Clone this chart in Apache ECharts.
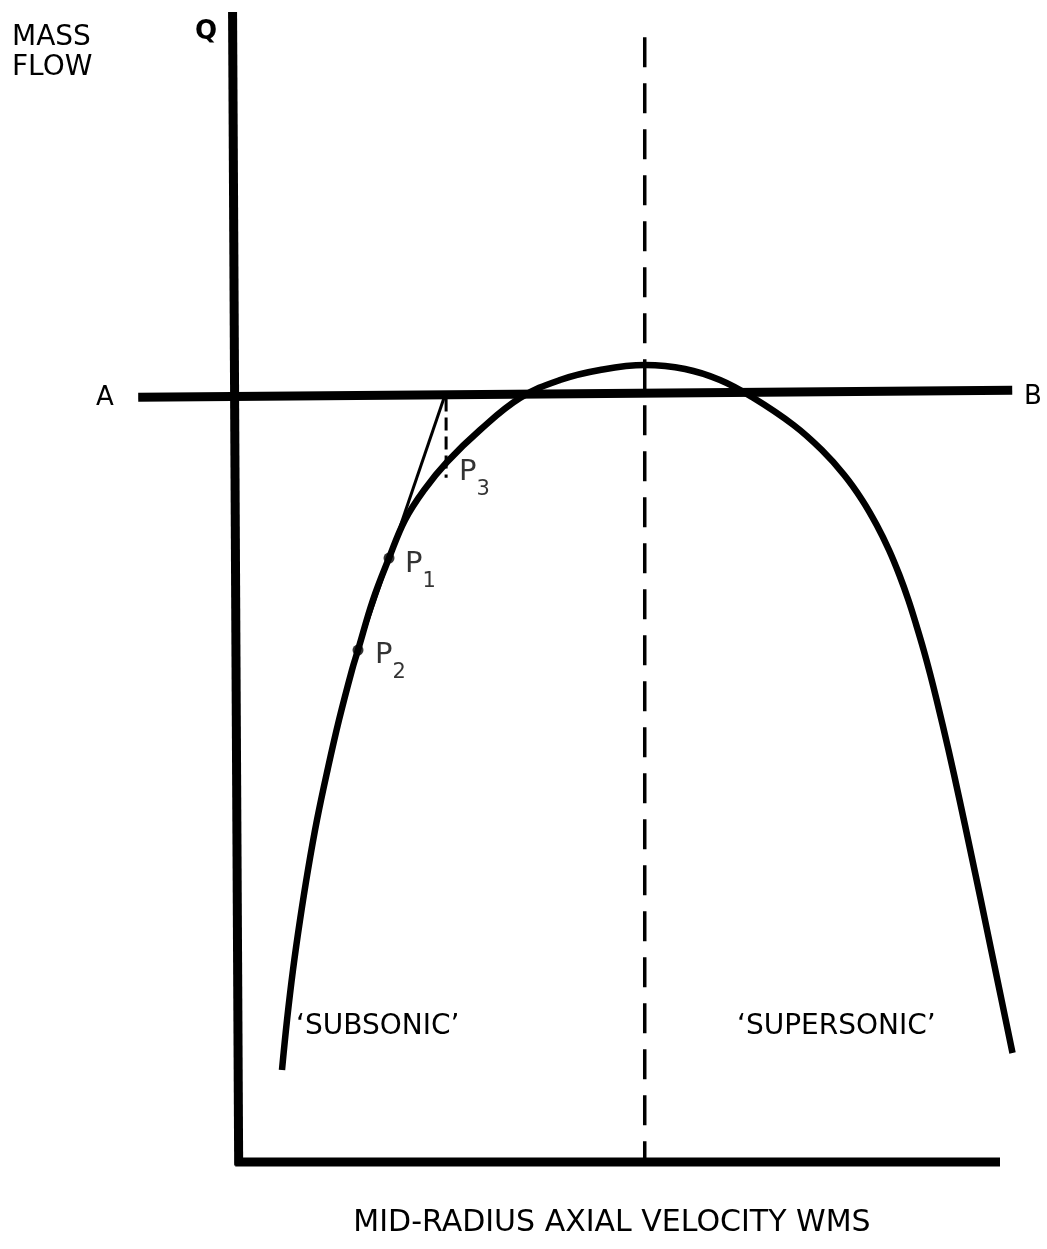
<!DOCTYPE html>
<html>
<head>
<meta charset="utf-8">
<script src="https://cdn.jsdelivr.net/npm/echarts@6/dist/echarts.min.js"></script>
<style>
  html, body { margin: 0; padding: 0; background: #fff; }
  #chart { width: 1047px; height: 1249px; }
</style>
</head>
<body>
<div id="chart"></div>
<script>
// Mass flow Q against mid-radius axial velocity (arbitrary units, 0-100 on both axes)

// characteristic curve: [velocity, mass flow]
const flowCurve = [
  [6.02, 8.00], [6.68, 12.35], [7.46, 16.70], [8.38, 21.04], [9.42, 25.39],
  [10.60, 29.74], [11.98, 34.09], [13.48, 38.43], [15.18, 42.78], [15.97, 44.52],
  [17.93, 48.87], [20.03, 52.52], [22.12, 55.83], [24.61, 58.43], [27.62, 60.87],
  [31.94, 63.65], [37.17, 66.43], [42.41, 68.00], [47.64, 68.87], [53.53, 69.30],
  [58.77, 68.96], [63.35, 68.00], [67.54, 66.52], [72.97, 64.09], [76.68, 61.91],
  [79.61, 59.74], [81.95, 57.57], [83.86, 55.39], [85.47, 53.22], [86.83, 51.04],
  [88.01, 48.87], [89.04, 46.70], [90.01, 44.52], [90.89, 42.35], [91.71, 40.17],
  [93.26, 35.83], [94.71, 31.48], [96.11, 27.13], [97.49, 22.78], [98.85, 18.43],
  [100.20, 14.09], [101.64, 9.48]
];

// tangent from P2 through P1 up to the line A-B
const tangentLine = [[15.97, 44.52], [27.2, 66.4]];

// mass-flow level A-B
const levelAB = [[-12.8, 66.5], [101.6, 67.1]];

// frame: Q axis and velocity axis
const qAxisLine = [[-0.45, 100], [0.35, -0.3]];
const velocityAxisLine = [[-0.1, 0], [100, 0]];

// choking velocity (peak of the curve)
const chokeLine = [[53.5, 97.8], [53.5, 0]];

// drop from the tangent's end to P3
const p3Drop = [[27.5, 66.4], [27.5, 59.5]];

// marked points
const pointNames = ['P1', 'P2', 'P3'];
const pointValues = [[20.03, 52.52], [15.97, 44.52], [27.62, 60.87]];

// text on the figure
const yTitle = ['MASS', 'FLOW'];
const xTitle = 'MID-RADIUS AXIAL VELOCITY WMS';
const regionNames = ['‘SUBSONIC’', '‘SUPERSONIC’'];

const FONT = '"DejaVu Sans", sans-serif';
const INK = '#000';

// x: 7.64 px per unit, y: 11.5 px per unit
const X_MIN = -14, X_MAX = 102, PX_X = 7.64;
const Y_MIN = 0, Y_MAX = 100, PX_Y = 11.5;
const gridLeft = 236 + X_MIN * PX_X;
const gridTop = 12;

const chart = echarts.init(document.getElementById('chart'), null, { renderer: 'canvas' });

function lineSeries(data, width, type) {
  return {
    type: 'line',
    data: data,
    showSymbol: false,
    symbol: 'none',
    clip: false,
    silent: true,
    animation: false,
    lineStyle: { color: INK, width: width, type: type || 'solid', cap: 'butt' }
  };
}

const pointLabelPos = { P1: [16, -8], P2: [17, -9], P3: [12, -4] };
const pointSize = { P1: 11, P2: 11, P3: 0 };

const pointData = pointNames.map((n, i) => ({
  name: n,
  value: pointValues[i],
  symbolSize: pointSize[n],
  label: {
    show: true,
    color: INK,
    position: [pointLabelPos[n][0] + pointSize[n] / 2, pointLabelPos[n][1] + pointSize[n] / 2],
    align: 'left',
    verticalAlign: 'top',
    formatter: '{p|P}{s|' + n.slice(1) + '}',
    rich: {
      p: { fontFamily: FONT, fontSize: 29, lineHeight: 29, color: INK, verticalAlign: 'top' },
      s: { fontFamily: FONT, fontSize: 21, lineHeight: 21, color: INK, verticalAlign: 'top', padding: [21, 0, 0, 0] }
    }
  }
}));

function txt(text, x, y, size, align, weight) {
  return {
    type: 'text',
    x: x, y: y,
    silent: true,
    style: {
      text: text,
      font: (weight || 'normal') + ' ' + size + 'px ' + FONT,
      fill: INK,
      align: align || 'left',
      verticalAlign: 'middle'
    }
  };
}

const option = {
  backgroundColor: '#fff',
  animation: false,
  grid: {
    left: gridLeft,
    top: gridTop,
    width: (X_MAX - X_MIN) * PX_X,
    height: (Y_MAX - Y_MIN) * PX_Y
  },
  xAxis: {
    type: 'value', min: X_MIN, max: X_MAX,
    axisLine: { show: false }, axisTick: { show: false },
    axisLabel: { show: false }, splitLine: { show: false }
  },
  yAxis: {
    type: 'value', min: Y_MIN, max: Y_MAX,
    axisLine: { show: false }, axisTick: { show: false },
    axisLabel: { show: false }, splitLine: { show: false }
  },
  series: [
    lineSeries(qAxisLine, 9),
    lineSeries(velocityAxisLine, 9),
    lineSeries(levelAB, 9),
    lineSeries(chokeLine, 3.5, [30, 16]),
    lineSeries(p3Drop, 3, [13, 6]),
    lineSeries(tangentLine, 3),
    Object.assign(lineSeries(flowCurve, 6.5), { smooth: 0.4 }),
    {
      type: 'scatter',
      data: pointData,
      symbol: 'circle',
      itemStyle: { color: INK },
      clip: false,
      silent: true,
      animation: false,
      z: 5
    }
  ],
  graphic: [
    txt(yTitle[0], 12, 38, 28),
    txt(yTitle[1], 12, 68, 28),
    txt('Q', 206, 32, 26, 'center', 'bold'),
    txt('A', 105, 398, 26, 'center'),
    txt('B', 1033, 397, 26, 'center'),
    txt(regionNames[0], 296, 1027, 28),
    txt(regionNames[1], 737, 1027, 28),
    txt(xTitle, 612, 1223, 30, 'center')
  ]
};

chart.setOption(option);
</script>
</body>
</html>
